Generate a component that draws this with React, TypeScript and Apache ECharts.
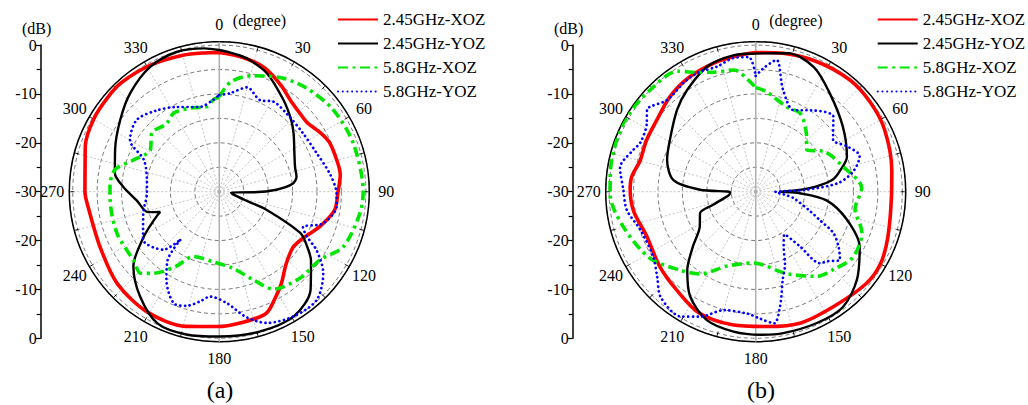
import React, { useEffect, useRef } from "react";
import * as echarts from "echarts";

// ---------- data (angle in degree, gain in dB) ----------
const seriesNames = ["2.45GHz-XOZ", "2.45GHz-YOZ", "5.8GHz-XOZ", "5.8GHz-YOZ"];
const angleLabels = [0, 30, 60, 90, 120, 150, 180, 210, 240, 270, 300, 330];

const aRed: [number, number][] = [
  [0, -1.5], [10, -2.1], [20, -3.0], [30, -4.8], [38, -6.3], [46, -7.0], [52, -7.1], [60, -6.0],
  [66, -5.3], [75, -5.1], [82, -5.0], [90, -5.7], [99, -6.1], [109, -8.2], [119, -10.4], [127, -11.1],
  [137, -9.9], [146, -7.3], [152, -5.5], [159, -3.3], [171, -2.8], [181, -2.4], [194, -1.6], [211, -1.3],
  [228, -1.9], [245, -3.1], [263, -3.0], [270, -2.5], [280, -2.1], [289, -1.0], [300, -0.3], [310, -0.1],
  [318, 0], [331, -0.5], [345, -1.1], [355, -1.45], [360, -1.5],
];
const aBlack: [number, number][] = [
  [0, -1.0], [6, -1.6], [12, -2.2], [22, -3.9], [35, -7.1], [45, -9.2], [52, -10.7], [62, -12.6],
  [72, -13.7], [79, -13.9], [84, -15], [88, -18.3], [91, -23], [94, -27.6], [100, -27.2], [108, -24.5],
  [111, -19.6], [117, -11.4], [122, -8.8], [127, -6.5], [137, -2.6], [149, -0.3], [164, -0.2], [180, -0.35],
  [193, 0], [205, -0.2], [217, -3.1], [229, -6.7], [239, -11.9], [248, -16.0], [251, -17.2], [254, -14.8],
  [264, -13.0], [273, -10.3], [280, -8.3], [292, -7.0], [306, -4.95], [318, -2.8], [331, -0.8], [343, -0.1],
  [354, -0.5], [360, -1.0],
];
const aGreen: [number, number][] = [
  [0, -10.6], [6, -7.4], [16, -5.3], [29, -3.4], [40, -2.3], [54, -1.3], [70, -0.85], [90, -0.55],
  [99, -0.9], [114, -2.25], [124, -5.1], [137, -5.8], [151, -7.2], [159, -10.7], [170, -14.1], [185, -15.6],
  [202, -15.7], [210, -12.4], [219, -8.5], [224, -6.8], [231, -7.5], [248, -7.4], [266, -7.6], [273, -7.6],
  [282, -8.2], [290, -11.2], [301, -13.5], [311, -11.7], [322, -12.4], [330, -11.4], [341, -11.9], [352, -12.4],
  [356, -11.2], [360, -10.6],
];
const aBlue: [number, number][] = [
  [0, -10.2], [6, -9.75], [15, -7.9], [24, -9.5], [31, -8.5], [41, -8.9], [55, -9.1], [68, -8.6],
  [81, -7.05], [91, -6.0], [97, -5.8], [107, -7.8], [113, -11.4], [117, -9.9], [121, -6.8], [128, -3.0],
  [138, -0.2], [149, -0.3], [160, -1.4], [168, -3.8], [176, -7.1], [185, -8.45], [190, -7.2], [196, -5.7],
  [202, -5.3], [211, -9.0], [217, -12.4], [219, -17.5], [224, -13.5], [238, -11.6], [254, -13.8], [269, -15.2],
  [279, -15.0], [293, -13.2], [300, -8.9], [311, -7.6], [322, -8.95], [333, -10.55], [347, -12.2], [356, -11.2],
  [360, -10.2],
];

const bRed: [number, number][] = [
  [0, -1.5], [11, -1.15], [25, -0.6], [40, -0.1], [52, -0.25], [64, -0.7], [81, -1.8], [92, -2.2],
  [109, -1.4], [120, -0.5], [130, -0.6], [146, -1.6], [161, -1.6], [175, -2.3], [190, -2.35], [205, -2.6],
  [219, -4.2], [232, -5.1], [248, -5.9], [261, -4.7], [271, -4.3], [277, -4.45], [285, -5.5], [295, -5.3],
  [306, -5.0], [318, -3.8], [330, -2.9], [343, -2.25], [353, -1.85], [360, -1.5],
];
const bBlack: [number, number][] = [
  [0, -1.7], [13, -0.9], [25, -1.85], [37, -4.8], [53, -7.7], [69, -10.0], [76, -12.2], [81, -14.0],
  [85, -17.5], [88, -21.5], [90, -25], [92, -21], [97, -15.4], [107, -10.5], [118, -5.9], [131, -2.55],
  [143, -0.4], [155, -0.35], [169, -0.5], [178, -0.7], [189, -1.0], [201, -1.9], [212, -4.7], [221, -8.65],
  [229, -13.0], [238, -16.5], [249, -17.8], [253, -20.9], [263, -24.5], [269, -24.8], [272, -18.6], [278, -13.0],
  [290, -10.7], [301, -9.5], [316, -6.8], [326, -4.9], [339, -2.5], [351, -1.7], [360, -1.7],
];
const bGreen: [number, number][] = [
  [0, -8.7], [6, -9.4], [20, -11.5], [30, -11.6], [41, -14.2], [51, -16.5], [59, -13.9], [74, -11.4],
  [88, -8.3], [100, -9.35], [111, -6.7], [124, -6.0], [135, -7.5], [144, -8.6], [159, -12.0], [182, -15.4],
  [201, -13.7], [214, -9.7], [224, -7.7], [238, -4.4], [255, -2.0], [269, -0.2], [275, -0.1], [286, 0.3],
  [300, 0.5], [314, 0], [327, -0.6], [332, -2.3], [340, -4.0], [350, -4.7], [356, -7.0], [360, -8.7],
];
const bBlue: [number, number][] = [
  [0, -6.3], [4, -4.5], [9, -2.7], [15, -8.4], [25, -11.6], [34, -9.9], [46, -7.9], [56, -10.9],
  [64, -9.0], [71, -7.5], [78, -9.5], [84, -13], [88, -20], [91, -26], [96, -24], [100, -22],
  [110, -18], [114, -15.6], [118, -12], [124, -9.5], [129, -7.8], [134, -9.5], [138, -10.3], [141, -15.6],
  [146, -19.5], [153, -17.4], [158, -14], [163, -11.1], [168, -6.0], [172, -2.8], [178, -4.0], [184, -5.0],
  [195, -4.9], [204, -2.0], [211, -0.2], [222, -0.95], [229, -3.3], [238, -5.2], [252, -5.1], [262, -3.35],
  [271, -2.9], [280, -1.8], [289, -3.55], [293, -4.35], [302, -3.7], [307, -2.15], [316, -3.9], [328, -3.15],
  [335, -2.95], [343, -3.2], [350, -2.3], [357, -2.4], [360, -6.3],
];

const FONT = '"Liberation Serif", "Times New Roman", serif';

const lineStyles: any[] = [
  { color: "#ff0000", width: 3.6, type: "solid" },
  { color: "#000000", width: 2.4, type: "solid" },
  { color: "#00e600", width: 3.6, type: [10, 4.5, 3, 4.5] },
  { color: "#0000ff", width: 2.7, type: [0.1, 4.6], cap: "round" },
];

export default function App() {
  const ref = useRef<HTMLDivElement>(null);
  useEffect(() => {
    const chart = echarts.init(ref.current!, null, { renderer: "svg" });
    const R = 150;
    const RMIN = -30;
    const RMAX = 0.7;
    const r0 = (R * (0 - RMIN)) / (RMAX - RMIN);
    const LR = 167;
    const panels = [
      { cx: 219.3, cy: 191.7, axisX: 40.7, legendX: 337, tag: "(a)", tagX: 220, data: [aRed, aBlack, aGreen, aBlue] },
      { cx: 755.7, cy: 191.7, axisX: 572.7, legendX: 876.7, tag: "(b)", tagX: 761, data: [bRed, bBlack, bGreen, bBlue] },
    ];

    const graphics: any[] = [];
    panels.forEach((p) => {
      graphics.push({
        type: "line",
        z: 1,
        shape: { x1: p.cx, y1: p.cy - R, x2: p.cx, y2: p.cy + R },
        style: { stroke: "#b0b0b0", lineWidth: 1.5 },
      });
      angleLabels.forEach((a) => {
        const rad = (a * Math.PI) / 180;
        graphics.push({
          type: "text",
          x: p.cx + LR * Math.sin(rad),
          y: p.cy - LR * Math.cos(rad),
          style: {
            text: String(a),
            fontFamily: FONT,
            fontSize: 16,
            fill: "#000",
            align: "center",
            verticalAlign: "middle",
          },
        });
      });
      graphics.push({
        type: "text",
        x: p.cx + 13.5,
        y: 20.5,
        style: { text: "(degree)", fontFamily: FONT, fontSize: 16, fill: "#000", align: "left", verticalAlign: "middle" },
      });
      graphics.push({
        type: "text",
        x: p.tagX,
        y: 390,
        style: { text: p.tag, fontFamily: FONT, fontSize: 24, fill: "#000", align: "center", verticalAlign: "middle" },
      });
    });

    const series: any[] = [];
    panels.forEach((p, i) => {
      p.data.forEach((arr, k) => {
        series.push({
          name: seriesNames[k],
          type: "line",
          coordinateSystem: "polar",
          polarIndex: i,
          data: arr.map(([ang, db]) => [db, ang]),
          symbol: "none",
          showSymbol: false,
          smooth: 0.3,
          lineStyle: lineStyles[k],
          itemStyle: { color: lineStyles[k].color },
          z: 2 + k,
        });
      });
    });

    chart.setOption({
      animation: false,
      backgroundColor: "#ffffff",
      polar: panels.map((p) => ({ center: [p.cx, p.cy], radius: R })),
      angleAxis: panels.map((p, i) => ({
        polarIndex: i,
        type: "value",
        min: 0,
        max: 360,
        interval: 15,
        startAngle: 90,
        clockwise: true,
        axisLine: { show: true, lineStyle: { color: "#000", width: 1.5 } },
        axisTick: { show: true, inside: true, length: 5, lineStyle: { color: "#000", width: 1 } },
        axisLabel: { show: false },
        splitLine: { show: true, lineStyle: { color: "#aaaaaa", width: 0.7, type: [2, 2] } },
      })),
      radiusAxis: panels.map((p, i) => ({
        polarIndex: i,
        type: "value",
        min: RMIN,
        max: RMAX,
        interval: 5,
        axisLine: { show: false },
        axisTick: { show: false },
        axisLabel: { show: false },
        splitLine: { show: true, lineStyle: { color: "#555", width: 0.8, type: [4, 3] } },
      })),
      grid: panels.map((p) => ({ left: p.axisX, top: p.cy - r0, width: 20, height: 2 * r0, show: false })),
      xAxis: panels.map((p, i) => ({ gridIndex: i, type: "value", show: false, min: 0, max: 1 })),
      yAxis: panels.map((p, i) => ({
        gridIndex: i,
        type: "value",
        min: -30,
        max: 30,
        interval: 10,
        position: "left",
        axisLine: { show: true, onZero: false, lineStyle: { color: "#000", width: 1.5 } },
        axisTick: { show: true, inside: false, length: 5, lineStyle: { color: "#000", width: 1.2 } },
        minorTick: { show: true, splitNumber: 2, length: 4, lineStyle: { color: "#000", width: 1.2 } },
        splitLine: { show: false },
        axisLabel: {
          formatter: (v: number) => String(Math.abs(v) - 30),
          fontFamily: FONT,
          fontSize: 16,
          color: "#000",
          margin: 4,
        },
        name: "(dB)",
        nameLocation: "end",
        nameGap: 9,
        nameTextStyle: { fontFamily: FONT, fontSize: 16, color: "#000", padding: [0, 8, 0, 0] },
      })),
      legend: panels.map((p) => ({
        left: p.legendX,
        top: 11,
        orient: "vertical",
        itemWidth: 40,
        itemHeight: 14,
        itemGap: 7,
        padding: 0,
        itemStyle: { opacity: 0, borderWidth: 0 },
        textStyle: { fontFamily: FONT, fontSize: 17, color: "#000" },
        data: seriesNames,
      })),
      graphic: { elements: graphics },
      series,
    });
    return () => chart.dispose();
  }, []);
  return (
    <div
      ref={ref}
      style={{ position: "fixed", left: 0, top: 0, width: 1028, height: 405, background: "#fff" }}
    />
  );
}
